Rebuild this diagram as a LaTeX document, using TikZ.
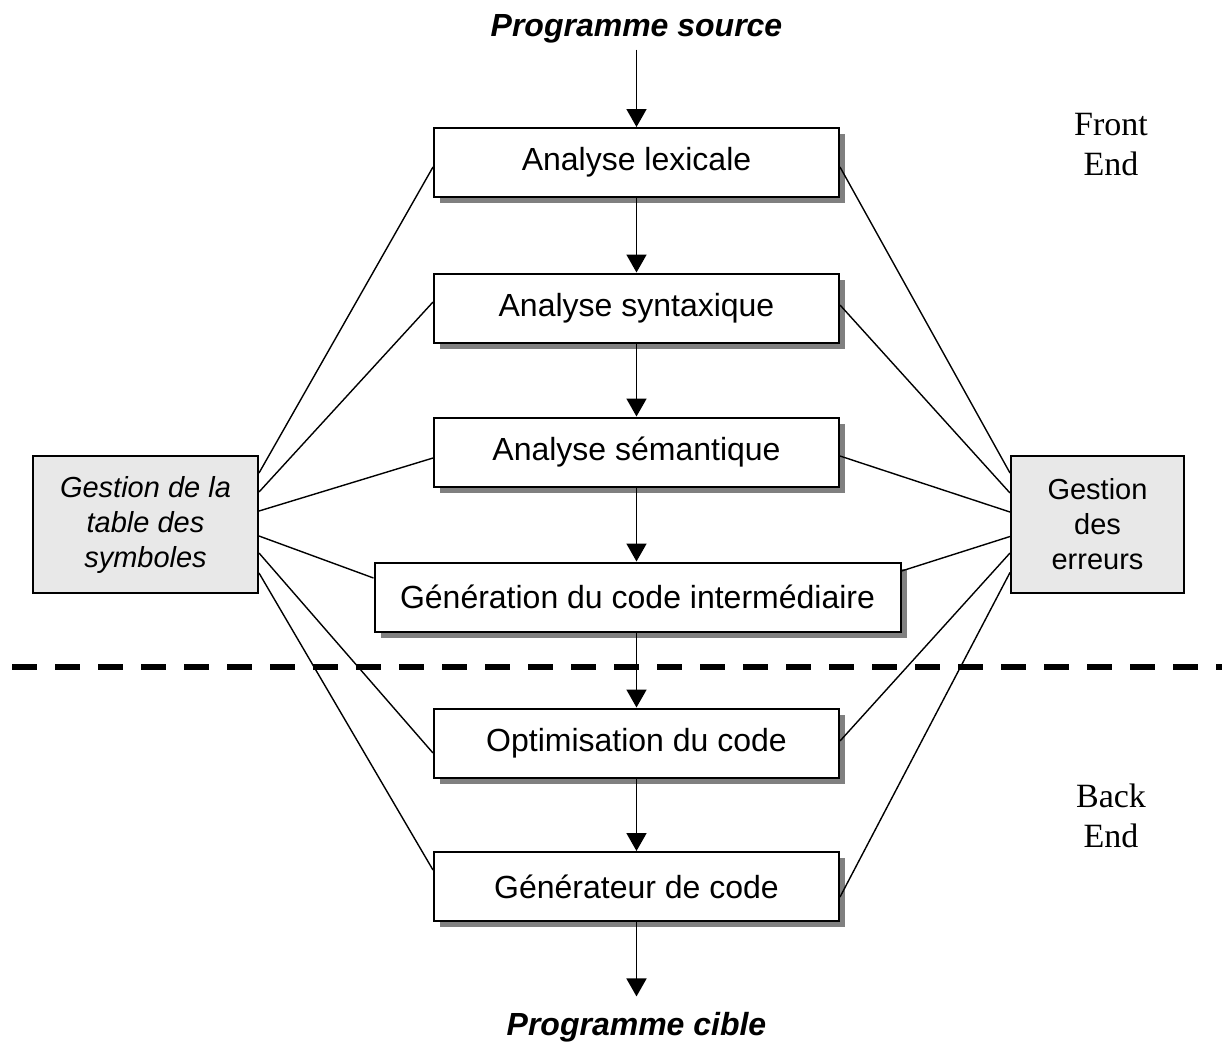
\documentclass[tikz,border=0pt]{standalone}
\usepackage{fontspec}
\setmainfont{Liberation Sans}
\newfontfamily\seriffont{Liberation Serif}
\usetikzlibrary{arrows.meta,shadows,calc}

\begin{document}
\begin{tikzpicture}[x=0.5pt,y=-0.5pt,
  stage/.style={draw=black, line width=1pt, fill=white,
    minimum width=202.5pt, minimum height=34.5pt, inner sep=0pt,
    font=\fontsize{16}{19}\selectfont,
    drop shadow={shadow xshift=3pt, shadow yshift=-3pt, fill=black!50, opacity=1}},
  side/.style={draw=black, line width=1pt, fill=black!9,
    minimum height=68.5pt, inner sep=0pt, align=center,
    font=\fontsize{14.5}{17.5}\selectfont},
  endtitle/.style={font=\bfseries\itshape\fontsize{16}{19}\selectfont},
  part/.style={font=\seriffont\fontsize{17}{20}\selectfont, anchor=base},
  flow/.style={line width=0.9pt, -{Triangle[width=10pt,length=9pt]}},
  link/.style={line width=0.7pt},
  phase/.style={line width=3.3pt, dash pattern=on 12.5pt off 9pt}]

\useasboundingbox (0,0) rectangle (1222,1041);

% front-end / back-end separator
\coordinate (sepL) at (12,667);
\coordinate (sepR) at (1222,667);
\draw[phase] (sepL) -- (sepR);

% compiler phases
\node[stage] (b1) at (636.5,162.5) {Analyse lexicale};
\node[stage] (b2) at (636.5,308) {Analyse syntaxique};
\node[stage] (b3) at (636.5,452) {Analyse sémantique};
\node[stage, minimum width=263pt] (b4) at (637.5,597) {Génération du code intermédiaire};
\node[stage] (b5) at (636.5,743) {Optimisation du code};
\node[stage] (b6) at (636.5,886.5) {Générateur de code};

% shared services
\node[side, minimum width=112.5pt, font=\itshape\fontsize{14.5}{17.5}\selectfont]
  (sym) at (145.5,524.5) {Gestion de la\\table des\\symboles};
\node[side, minimum width=86.5pt] (err) at (1097.5,524.5) {Gestion\\des\\erreurs};

% input and output
\node[endtitle, anchor=base] (src) at (636.5,36) {Programme source};
\node[endtitle, anchor=base, inner ysep=7.5pt] (tgt) at (636.5,1035) {Programme cible};

% part labels
\node[part] (fr1) at (1111,135) {Front};
\node[part] (fr2) at (1111,175) {End};
\node[part] (bk1) at (1111,807) {Back};
\node[part] (bk2) at (1111,847) {End};

% main flow
\draw[flow] (src.south) -- (b1.north);
\draw[flow] (b1.south) -- (b2.north);
\draw[flow] (b2.south) -- (b3.north);
\draw[flow] (b3.south) -- (b4.north -| b3.south);
\draw[flow] (b4.south -| b5.north) -- (b5.north);
\draw[flow] (b5.south) -- (b6.north);
\draw[flow] (b6.south) -- (tgt.north);

% symbol table links
\draw[link] ($(sym.east)+(0,-51.5)$) -- ($(b1.west)+(0,4.5)$);
\draw[link] ($(sym.east)+(0,-32.5)$) -- ($(b2.west)+(0,-6)$);
\draw[link] ($(sym.east)+(0,-13.5)$) -- ($(b3.west)+(0,6)$);
\draw[link] ($(sym.east)+(0,11.5)$) -- ($(b4.west)+(0,-19)$);
\draw[link] ($(sym.east)+(0,28.5)$) -- ($(b5.west)+(0,10)$);
\draw[link] ($(sym.east)+(0,48.5)$) -- ($(b6.west)+(0,-16.5)$);

% error handler links
\draw[link] ($(b1.east)+(0,4.5)$) -- ($(err.west)+(0,-51.5)$);
\draw[link] ($(b2.east)+(0,-3)$) -- ($(err.west)+(0,-31.5)$);
\draw[link] ($(b3.east)+(0,4)$) -- ($(err.west)+(0,-12.5)$);
\draw[link] ($(b4.east)+(0,-26)$) -- ($(err.west)+(0,12)$);
\draw[link] ($(b5.east)+(0,-2)$) -- ($(err.west)+(0,28.5)$);
\draw[link] ($(b6.east)+(0,10.5)$) -- ($(err.west)+(0,48)$);
\end{tikzpicture}
\end{document}
